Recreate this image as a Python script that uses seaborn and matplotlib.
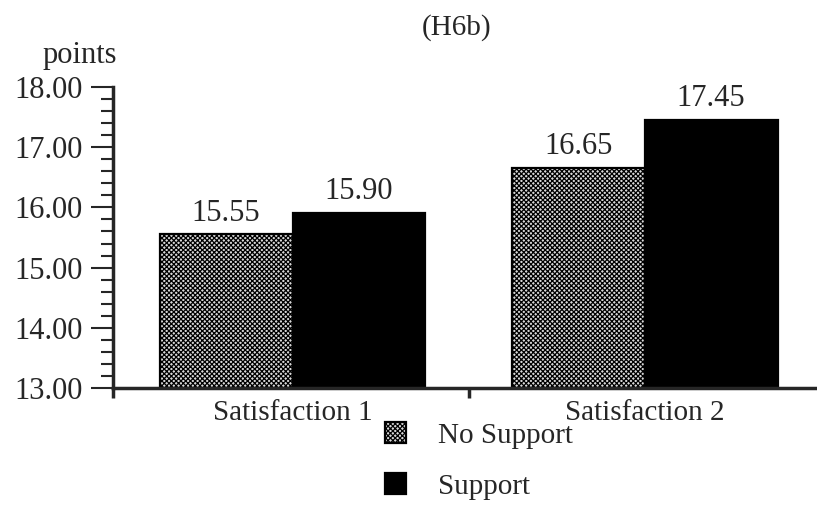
import matplotlib
matplotlib.use("Agg")
import matplotlib.pyplot as plt
from matplotlib.ticker import MultipleLocator, FixedLocator, FormatStrFormatter
import pandas as pd
import seaborn as sns

# Mean satisfaction scores by condition
categories = ["Satisfaction 1", "Satisfaction 2"]
conditions = ["No Support", "Support"]
no_support = [15.55, 16.65]
support = [15.90, 17.45]

df = pd.DataFrame({
    "measure": categories * 2,
    "condition": [conditions[0]] * 2 + [conditions[1]] * 2,
    "points": no_support + support,
})

sns.set_style("ticks")
plt.rcParams["font.family"] = ["Liberation Serif", "DejaVu Serif"]
plt.rcParams["hatch.linewidth"] = 0.9
plt.rcParams["hatch.color"] = "#222222"

fig = plt.figure(figsize=(8.17, 5.18), dpi=100)
ax = fig.add_axes([113 / 817, 1 - 388 / 518, (815 - 113) / 817, (388 - 87) / 518])

sns.barplot(
    data=df, x="measure", y="points", hue="condition",
    order=categories, hue_order=conditions,
    palette={"No Support": "#d9d9d9", "Support": "black"},
    width=0.755, edgecolor="black", linewidth=1.6,
    legend=False, ax=ax, errorbar=None,
)

# stippled fill for the unsupported condition
for patch in ax.containers[0]:
    patch.set_hatch("xxxxxxx")

ax.set_ylim(13, 18)
ax.set_xlim(-0.51, 1.484)

ax.yaxis.set_major_locator(MultipleLocator(1))
ax.yaxis.set_minor_locator(MultipleLocator(0.2))
ax.yaxis.set_major_formatter(FormatStrFormatter("%.2f"))
ax.tick_params(axis="y", which="major", length=16, width=1.5, labelsize=22, pad=6, direction="out")
ax.tick_params(axis="y", which="minor", length=8.5, width=1.5, direction="out")

ax.xaxis.set_minor_locator(FixedLocator([-0.51, 0.5]))
ax.tick_params(axis="x", which="major", length=0, labelsize=21, pad=9)
ax.tick_params(axis="x", which="minor", length=7, width=2.5, direction="out")

ax.set_xlabel("")
ax.set_ylabel("")
for side in ("top", "right"):
    ax.spines[side].set_visible(False)
for side in ("left", "bottom"):
    ax.spines[side].set_linewidth(2.5)

for cont in ax.containers:
    ax.bar_label(cont, fmt="%.2f", fontsize=22, padding=5)

fig.text(457 / 817, 1 - 28 / 518, "(H6b)", ha="center", va="center", fontsize=21)
fig.text(80 / 817, 1 - 55 / 518, "points", ha="center", va="center", fontsize=22)

handles = [ax.containers[0][0], ax.containers[1][0]]
fig.legend(
    handles, conditions, loc="upper left", bbox_to_anchor=(385 / 817, 1 - 422 / 518),
    frameon=False, fontsize=21, handlelength=0.72, handleheight=0.72,
    handletextpad=1.1, labelspacing=0.85, borderpad=0, borderaxespad=0,
)

fig.savefig("out.png", dpi=100)
